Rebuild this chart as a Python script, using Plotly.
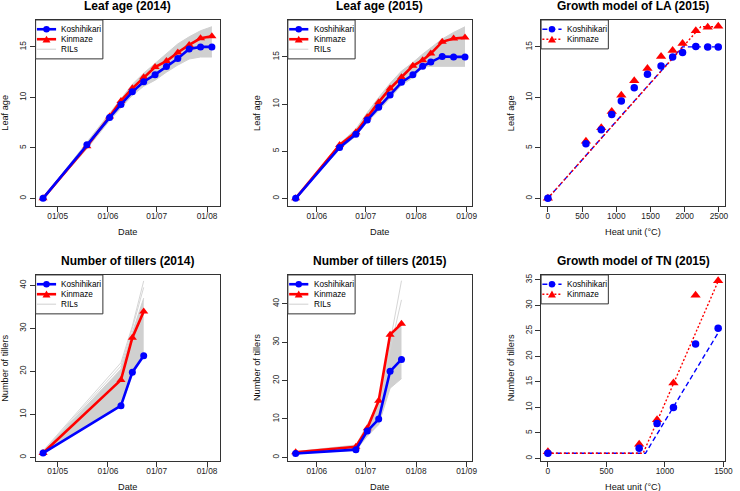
import plotly.graph_objects as go

# ---------------- data ----------------
# Leaf age 2014
dates14_la = ["2014-04-22", "2014-05-19", "2014-06-02", "2014-06-09", "2014-06-16", "2014-06-23",
              "2014-06-30", "2014-07-07", "2014-07-14", "2014-07-21", "2014-07-28", "2014-08-04"]
la14_kos = [0, 5.3, 8.0, 9.3, 10.55, 11.55, 12.25, 13.05, 13.85, 14.8, 15.0, 15.0]
la14_kin = [0, 5.15, 8.1, 9.65, 10.9, 12.0, 13.0, 13.6, 14.45, 15.2, 15.85, 16.05]
la14_ril_hi = [0, 5.6, 8.4, 9.9, 11.3, 12.4, 13.4, 14.3, 15.3, 16.0, 16.6, 17.0]
la14_ril_lo = [0, 4.9, 7.7, 9.0, 10.2, 11.1, 11.7, 12.5, 13.2, 13.8, 14.0, 14.0]

# Leaf age 2015
dates15_la = ["2015-05-19", "2015-06-15", "2015-06-25", "2015-07-02", "2015-07-09", "2015-07-16",
              "2015-07-23", "2015-07-30", "2015-08-05", "2015-08-10", "2015-08-17", "2015-08-24",
              "2015-08-31"]
la15_kos = [0, 5.4, 6.8, 8.3, 9.65, 10.95, 12.3, 13.1, 14.0, 14.45, 15.05, 15.0, 15.0]
la15_kin = [0, 5.65, 7.0, 8.6, 10.2, 11.65, 12.85, 14.05, 14.65, 15.35, 16.6, 16.95, 17.05]
la15_ril_hi = [0, 5.8, 7.35, 9.1, 10.7, 12.2, 13.5, 14.4, 15.3, 16.0, 16.9, 17.6, 18.2]
la15_ril_lo = [0, 5.2, 6.6, 8.1, 9.3, 10.7, 12.0, 12.8, 13.9, 14.0, 14.0, 14.0, 14.0]

# Heat units 2015 (same dates as leaf age 2015)
heat15 = [0, 556, 780, 933, 1073, 1262, 1455, 1654, 1823, 1968, 2162, 2336, 2490]
model_la_x_kos = [0, 1965, 2490]
model_la_kos = [0, 15, 15]
model_la_x_kin = [0, 2235, 2490]
model_la_kin = [0, 17, 17]

# Number of tillers 2014
dates14_tn = ["2014-04-22", "2014-06-09", "2014-06-16", "2014-06-23"]
tn14_kos = [1, 12.0, 19.8, 23.6]
tn14_kin = [1, 18.0, 27.8, 33.9]
tn14_ril_hi = [1.3, 20.5, 29.0, 37.0]
tn14_ril_lo = [1, 12.0, 19.0, 24.0]
tn14_ril_a = [1.5, 22.0, 30.5, 41.0]
tn14_ril_b = [1.4, 21.2, 30.0, 39.5]

# Number of tillers 2015
dates15_tn = ["2015-05-19", "2015-06-25", "2015-07-02", "2015-07-09", "2015-07-16", "2015-07-23"]
tn15_kos = [1.0, 2.0, 6.85, 9.95, 22.4, 25.5]
tn15_kin = [1.3, 2.75, 7.55, 14.75, 31.95, 34.8]
tn15_ril_hi = [1.5, 3.2, 8.5, 14.5, 31.0, 35.0]
tn15_ril_lo = [1.0, 1.8, 5.5, 8.5, 18.0, 20.5]
tn15_ril_a = [1.3, 3.0, 8.0, 14.0, 30.0, 46.0]
tn15_ril_b = [1.2, 2.8, 7.8, 13.5, 28.0, 41.0]

heat15_tn = [0, 780, 933, 1073, 1262, 1455]
model_tn_x_kos = [0, 834, 1455]
model_tn_kos = [1, 1, 24.6]
model_tn_x_kin = [0, 814, 1455]
model_tn_kin = [1, 1, 34.7]

# tick labels
ticks14 = ["2014-05-01", "2014-06-01", "2014-07-01", "2014-08-01"]
ticktext14 = ["01/05", "01/06", "01/07", "01/08"]
ticks15 = ["2015-06-01", "2015-07-01", "2015-08-01", "2015-09-01"]
ticktext15 = ["01/06", "01/07", "01/08", "01/09"]

titles = ["Leaf age (2014)", "Leaf age (2015)", "Growth model of LA (2015)",
          "Number of tillers (2014)", "Number of tillers (2015)", "Growth model of TN (2015)"]
xlabels = ["Date", "Date", "Heat unit (°C)", "Date", "Date", "Heat unit (°C)"]
ylabels = ["Leaf age", "Leaf age", "Leaf age", "Number of tillers", "Number of tillers", "Number of tillers"]
names = ["Koshihikari", "Kinmaze", "RILs"]

# ---------------- layout helpers ----------------
W, H = 740, 491
FONT = "Liberation Sans, Arial, Helvetica, sans-serif"
BLUE = "#0000FF"
RED = "#FF0000"
GRAY = "#D0D0D0"
FRAME = "#333333"

cols = [(36, 222), (291, 477), (547, 733)]
rows = [(19, 205), (274.5, 460.7)]


def fx(p):
    return p / W


def fy(p):
    return 1 - p / H


fig = go.Figure()


def ax(i):
    return ("x" if i == 1 else f"x{i}"), ("y" if i == 1 else f"y{i}")


def add_band(i, x, lo, hi):
    xa, ya = ax(i)
    fig.add_trace(go.Scatter(x=x, y=lo, mode="lines", line=dict(color=GRAY, width=1),
                             xaxis=xa, yaxis=ya, showlegend=False, hoverinfo="skip"))
    fig.add_trace(go.Scatter(x=x, y=hi, mode="lines", line=dict(color=GRAY, width=1),
                             fill="tonexty", fillcolor=GRAY,
                             xaxis=xa, yaxis=ya, showlegend=False, hoverinfo="skip"))


def add_ril(i, x, y):
    xa, ya = ax(i)
    fig.add_trace(go.Scatter(x=x, y=y, mode="lines", line=dict(color="#D6D6D6", width=1),
                             xaxis=xa, yaxis=ya, showlegend=False, hoverinfo="skip"))


def add_series(i, x, y, color, symbol, mode="lines+markers", size=7):
    xa, ya = ax(i)
    fig.add_trace(go.Scatter(x=x, y=y, mode=mode,
                             line=dict(color=color, width=2.6),
                             marker=dict(color=color, symbol=symbol, size=size, line=dict(width=0)),
                             xaxis=xa, yaxis=ya, showlegend=False))


def add_model(i, x, y, color, dash):
    xa, ya = ax(i)
    fig.add_trace(go.Scatter(x=x, y=y, mode="lines",
                             line=dict(color=color, width=1.4, dash=dash),
                             xaxis=xa, yaxis=ya, showlegend=False, hoverinfo="skip"))


# panel 1
add_band(1, dates14_la, la14_ril_lo, la14_ril_hi)
add_series(1, dates14_la, la14_kin, RED, "triangle-up", size=8)
add_series(1, dates14_la, la14_kos, BLUE, "circle")
# panel 2
add_band(2, dates15_la, la15_ril_lo, la15_ril_hi)
add_series(2, dates15_la, la15_kin, RED, "triangle-up", size=8)
add_series(2, dates15_la, la15_kos, BLUE, "circle")
# panel 3
add_model(3, model_la_x_kos, model_la_kos, BLUE, "5px,3px")
add_model(3, model_la_x_kin, model_la_kin, RED, "2px,2px")
add_series(3, heat15, la15_kin, RED, "triangle-up", mode="markers", size=9)
add_series(3, heat15, la15_kos, BLUE, "circle", mode="markers", size=7.5)
# panel 4
add_band(4, dates14_tn, tn14_ril_lo, tn14_ril_hi)
add_ril(4, dates14_tn, tn14_ril_a)
add_ril(4, dates14_tn, tn14_ril_b)
add_series(4, dates14_tn, tn14_kin, RED, "triangle-up", size=8)
add_series(4, dates14_tn, tn14_kos, BLUE, "circle")
# panel 5
add_band(5, dates15_tn, tn15_ril_lo, tn15_ril_hi)
add_ril(5, dates15_tn, tn15_ril_a)
add_ril(5, dates15_tn, tn15_ril_b)
add_series(5, dates15_tn, tn15_kin, RED, "triangle-up", size=8)
add_series(5, dates15_tn, tn15_kos, BLUE, "circle")
# panel 6
add_model(6, model_tn_x_kos, model_tn_kos, BLUE, "5px,3px")
add_model(6, model_tn_x_kin, model_tn_kin, RED, "2px,2px")
add_series(6, heat15_tn, tn15_kin, RED, "triangle-up", mode="markers", size=9)
add_series(6, heat15_tn, tn15_kos, BLUE, "circle", mode="markers", size=7.5)

# ---------------- axes ----------------
xranges = [["2014-04-17 10:00", "2014-08-08 18:00"], ["2015-05-14 05:00", "2015-09-04 05:00"], [-99.6, 2589.6],
           ["2014-04-17 10:00", "2014-08-08 18:00"], ["2015-05-14 05:00", "2015-09-04 05:00"], [-58.2, 1514.2]]
yranges = [[-0.72, 17.67], [-0.77, 18.92], [-0.72, 17.67], [-0.8, 42.4], [-0.9, 47.5], [-0.47, 35.94]]
xticks = [(ticks14, ticktext14), (ticks15, ticktext15), ([0, 500, 1000, 1500, 2000, 2500], None),
          (ticks14, ticktext14), (ticks15, ticktext15), ([0, 500, 1000, 1500], None)]
yticks = [[0, 5, 10, 15], [0, 5, 10, 15], [0, 5, 10, 15], [0, 10, 20, 30, 40], [0, 10, 20, 30, 40],
          [0, 5, 10, 15, 20, 25, 30, 35]]

common = dict(showline=True, mirror=True, linecolor=FRAME, linewidth=1, ticks="outside", ticklen=5,
              tickcolor=FRAME, tickwidth=1, showgrid=False, zeroline=False,
              tickfont=dict(family=FONT, size=8.3, color="#222"))

layout = {}
annotations = []
shapes = []
for i in range(1, 7):
    r = (i - 1) // 3
    c = (i - 1) % 3
    x0, x1 = cols[c]
    y0, y1 = rows[r]
    xa, ya = ax(i)
    xkey = "xaxis" if i == 1 else f"xaxis{i}"
    ykey = "yaxis" if i == 1 else f"yaxis{i}"
    tv, tt = xticks[i - 1]
    xd = dict(common, domain=[fx(x0), fx(x1)], anchor=ya, range=xranges[i - 1], tickvals=tv,
              ticklabelstandoff=-3)
    if tt is not None:
        xd["ticktext"] = tt
        xd["type"] = "date"
    layout[xkey] = xd
    layout[ykey] = dict(common, domain=[fy(y1), fy(y0)], anchor=xa, range=yranges[i - 1],
                        tickvals=yticks[i - 1], tickangle=-90)
    cx = (x0 + x1) / 2
    annotations.append(dict(text="<b>" + titles[i - 1] + "</b>", x=fx(cx), y=fy(y0 - 14), xref="paper",
                            yref="paper", showarrow=False, xanchor="center", yanchor="middle",
                            font=dict(family=FONT, size=12, color="#000")))
    annotations.append(dict(text=xlabels[i - 1], x=fx(cx), y=fy(y1 + 26), xref="paper", yref="paper",
                            showarrow=False, xanchor="center", yanchor="middle",
                            font=dict(family=FONT, size=9.2, color="#111")))
    annotations.append(dict(text=ylabels[i - 1], x=fx(x0 - 31), y=fy((y0 + y1) / 2), xref="paper",
                            yref="paper", showarrow=False, xanchor="center", yanchor="middle",
                            textangle=-90, font=dict(family=FONT, size=9.2, color="#111")))

    # legend (manual, R-style)
    model = c == 2
    items = [(names[0], BLUE, "circle", "5px,3px" if model else None, 1.4 if model else 2.6),
             (names[1], RED, "triangle", "2px,2px" if model else None, 1.4 if model else 2.6)]
    if not model:
        items.append((names[2], GRAY, None, None, 1))
    lw, lh = 68, 10 * len(items) + 9
    shapes.append(dict(type="rect", xref="paper", yref="paper", x0=fx(x0), x1=fx(x0 + lw),
                       y0=fy(y0), y1=fy(y0 + lh), line=dict(color=FRAME, width=1), fillcolor="white"))
    for k, (lab, col, sym, dash, wid) in enumerate(items):
        cy = y0 + 9.3 + 10 * k
        ln = dict(color=col, width=wid)
        if dash:
            ln["dash"] = dash
        shapes.append(dict(type="line", xref="paper", yref="paper", x0=fx(x0 + 1.3), x1=fx(x0 + 20.7),
                           y0=fy(cy), y1=fy(cy), line=ln))
        mx = x0 + 11
        if sym == "circle":
            rr = 3.3
            shapes.append(dict(type="circle", xref="paper", yref="paper", x0=fx(mx - rr), x1=fx(mx + rr),
                               y0=fy(cy - rr), y1=fy(cy + rr), fillcolor=col, line=dict(width=0)))
        elif sym == "triangle":
            path = (f"M {fx(mx - 4)},{fy(cy + 3.3)} L {fx(mx + 4)},{fy(cy + 3.3)} "
                    f"L {fx(mx)},{fy(cy - 3.6)} Z")
            shapes.append(dict(type="path", xref="paper", yref="paper", path=path, fillcolor=col,
                               line=dict(width=0)))
        annotations.append(dict(text=lab, x=fx(x0 + 24), y=fy(cy), xref="paper", yref="paper",
                                showarrow=False, xanchor="left", yanchor="middle",
                                font=dict(family=FONT, size=8.2, color="#000")))

fig.update_layout(**layout)
fig.update_layout(width=W, height=H, margin=dict(l=0, r=0, t=0, b=0), paper_bgcolor="white",
                  plot_bgcolor="white", showlegend=False, annotations=annotations, shapes=shapes,
                  font=dict(family=FONT))

fig.write_html("out.html", config={"displayModeBar": False},
               post_script="document.body.style.margin='0px';document.body.style.overflow='hidden';")
